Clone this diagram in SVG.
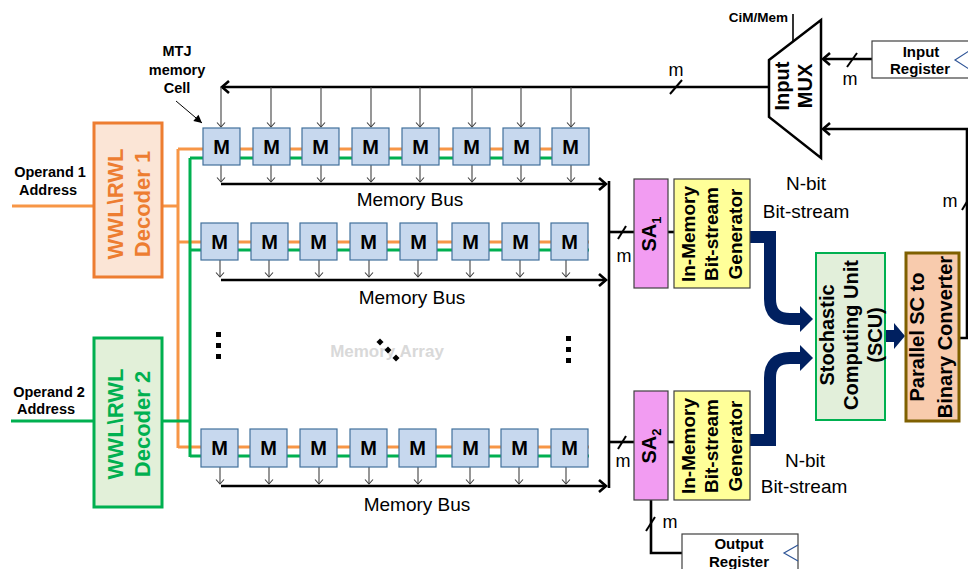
<svg xmlns="http://www.w3.org/2000/svg" width="968" height="569" viewBox="0 0 968 569">
<style>
.b{font-family:"Liberation Sans",Arial,sans-serif;font-weight:bold;fill:#000}
.n{font-family:"Liberation Sans",Arial,sans-serif;fill:#000}
.cell rect{fill:#c7d8ee;stroke:#41719c;stroke-width:1.2}
.cell text{font-family:"Liberation Sans",Arial,sans-serif;font-weight:bold;font-size:20px;text-anchor:middle}
.thin{stroke:#404040;stroke-width:1.1;fill:none}
.bus{stroke:#000;stroke-width:2.6;fill:none}
.or{stroke:#f79646;stroke-width:3;fill:none}
.gr{stroke:#00b050;stroke-width:3;fill:none}
.big{stroke:#002060;stroke-width:12;fill:none}
.mid{text-anchor:middle}
</style>
<defs>
<marker id="sa" markerUnits="userSpaceOnUse" markerWidth="10" markerHeight="10" viewBox="0 0 10 10" refX="9" refY="5" orient="auto"><path d="M4.5,1 L9,5 L4.5,9" fill="none" stroke="#404040" stroke-width="1.1"/></marker>
<marker id="ba" markerUnits="userSpaceOnUse" markerWidth="16" markerHeight="16" viewBox="0 0 16 16" refX="14" refY="8" orient="auto"><path d="M7,2 L14,8 L7,14" fill="none" stroke="#000" stroke-width="2.6"/></marker>
<marker id="fa" markerUnits="userSpaceOnUse" markerWidth="10" markerHeight="10" viewBox="0 0 10 10" refX="9" refY="5" orient="auto"><path d="M1,1 L9,5 L1,9 Z" fill="#000"/></marker>
</defs>
<rect width="968" height="569" fill="#fff"/>

<g id="connectors">
<!-- operand address lines -->
<line x1="12" y1="206" x2="94" y2="206" class="or"/>
<line x1="11" y1="421" x2="94" y2="421" class="gr"/>
<!-- decoder 1 wiring -->
<polyline points="162,206 178,206" class="or"/>
<line x1="178" y1="149" x2="178" y2="448" class="or"/>
<line x1="178" y1="149" x2="589" y2="149" class="or"/>
<line x1="178" y1="242" x2="589" y2="242" class="or"/>
<line x1="178" y1="447" x2="589" y2="447" class="or"/>
<!-- decoder 2 wiring -->
<polyline points="162,421 190,421" class="gr"/>
<line x1="190" y1="158" x2="190" y2="457" class="gr"/>
<line x1="190" y1="158" x2="589" y2="158" class="gr"/>
<line x1="190" y1="250" x2="589" y2="250" class="gr"/>
<line x1="190" y1="456" x2="589" y2="456" class="gr"/>
<!-- top bus from MUX -->
<line x1="769" y1="87" x2="222" y2="87" class="bus" marker-end="url(#ba)"/>
<line x1="670" y1="94" x2="682" y2="80" stroke="#000" stroke-width="2"/>
<g class="thin" marker-end="url(#sa)">
<line x1="221" y1="87" x2="221" y2="127"/>
<line x1="271" y1="87" x2="271" y2="127"/>
<line x1="321" y1="87" x2="321" y2="127"/>
<line x1="371" y1="87" x2="371" y2="127"/>
<line x1="420" y1="87" x2="420" y2="127"/>
<line x1="472" y1="87" x2="472" y2="127"/>
<line x1="521" y1="87" x2="521" y2="127"/>
<line x1="571" y1="87" x2="571" y2="127"/>
</g>
<!-- row outputs -->
<g class="thin" marker-end="url(#sa)">
<line x1="221" y1="165" x2="221" y2="182"/>
<line x1="271" y1="165" x2="271" y2="182"/>
<line x1="321" y1="165" x2="321" y2="182"/>
<line x1="371" y1="165" x2="371" y2="182"/>
<line x1="420" y1="165" x2="420" y2="182"/>
<line x1="472" y1="165" x2="472" y2="182"/>
<line x1="521" y1="165" x2="521" y2="182"/>
<line x1="571" y1="165" x2="571" y2="182"/>
<line x1="220" y1="260" x2="220" y2="277"/>
<line x1="269" y1="260" x2="269" y2="277"/>
<line x1="319" y1="260" x2="319" y2="277"/>
<line x1="369" y1="260" x2="369" y2="277"/>
<line x1="418" y1="260" x2="418" y2="277"/>
<line x1="470" y1="260" x2="470" y2="277"/>
<line x1="520" y1="260" x2="520" y2="277"/>
<line x1="566" y1="260" x2="566" y2="277"/>
<line x1="220" y1="467" x2="220" y2="484"/>
<line x1="269" y1="467" x2="269" y2="484"/>
<line x1="319" y1="467" x2="319" y2="484"/>
<line x1="369" y1="467" x2="369" y2="484"/>
<line x1="418" y1="467" x2="418" y2="484"/>
<line x1="470" y1="467" x2="470" y2="484"/>
<line x1="519" y1="467" x2="519" y2="484"/>
<line x1="566" y1="467" x2="566" y2="484"/>
</g>
<!-- memory buses -->
<line x1="221" y1="184" x2="606" y2="184" class="bus" marker-end="url(#ba)"/>
<line x1="221" y1="280" x2="606" y2="280" class="bus" marker-end="url(#ba)"/>
<line x1="221" y1="486" x2="606" y2="486" class="bus" marker-end="url(#ba)"/>
<line x1="609" y1="181" x2="609" y2="488" class="bus"/>
<!-- to sense amps -->
<line x1="609" y1="232" x2="634" y2="232" class="bus"/>
<line x1="618" y1="239" x2="626" y2="226" stroke="#000" stroke-width="2"/>
<line x1="609" y1="442" x2="634" y2="442" class="bus"/>
<line x1="618" y1="449" x2="626" y2="436" stroke="#000" stroke-width="2"/>
<line x1="668" y1="232" x2="674" y2="232" class="bus"/>
<line x1="668" y1="442" x2="674" y2="442" class="bus"/>
<!-- output register path -->
<polyline points="651,500 651,553 682,553" class="bus"/>
<line x1="646" y1="531" x2="655" y2="517" stroke="#000" stroke-width="2"/>
<!-- thick bit-stream arrows -->
<path d="M750,237 H770 V299 Q770,319 790,319 H801" class="big"/>
<polygon points="800,306 813,319 800,332" fill="#002060"/>
<path d="M750,440 H770 V378 Q770,358 790,358 H801" class="big"/>
<polygon points="800,345 813,358 800,371" fill="#002060"/>
<line x1="885" y1="336" x2="895" y2="336" stroke="#002060" stroke-width="12"/>
<polygon points="894,323 905,336 894,349" fill="#002060"/>
<!-- feedback to MUX -->
<polyline points="959,338 967,338 967,129 823,129" class="bus" marker-end="url(#ba)"/>
<line x1="962" y1="210" x2="968" y2="200" stroke="#000" stroke-width="2"/>
<!-- input register to MUX -->
<line x1="872" y1="59" x2="823" y2="59" class="bus" marker-end="url(#ba)"/>
<line x1="847" y1="67" x2="857" y2="53" stroke="#000" stroke-width="2"/>
<!-- CiM/Mem select -->
<line x1="793" y1="14" x2="793" y2="42" stroke="#000" stroke-width="1.6"/>
<!-- MTJ pointer -->
<line x1="176" y1="101" x2="202" y2="123" stroke="#000" stroke-width="1" marker-end="url(#fa)"/>
</g>

<g id="decoder1">
<rect x="94" y="123" width="68" height="154" fill="#fbe5d6" stroke="#ed7d31" stroke-width="3"/>
<text class="b mid" font-size="22" fill="#ed7d31" style="fill:#ed7d31" transform="translate(123,204) rotate(-90)">WWL\RWL</text>
<text class="b mid" font-size="22" style="fill:#ed7d31" transform="translate(150,204) rotate(-90)">Decoder 1</text>
</g>
<g id="decoder2">
<rect x="94" y="338" width="68" height="169" fill="#e2f0d9" stroke="#00b050" stroke-width="3"/>
<text class="b mid" font-size="22" style="fill:#00b050" transform="translate(123,424) rotate(-90)">WWL\RWL</text>
<text class="b mid" font-size="22" style="fill:#00b050" transform="translate(150,424) rotate(-90)">Decoder 2</text>
</g>

<g id="row1">
<g id="m11" class="cell"><rect x="203" y="128" width="37" height="37"/><text x="221.5" y="154">M</text></g>
<g id="m12" class="cell"><rect x="253" y="128" width="37" height="37"/><text x="271.5" y="154">M</text></g>
<g id="m13" class="cell"><rect x="302" y="128" width="37" height="37"/><text x="320.5" y="154">M</text></g>
<g id="m14" class="cell"><rect x="352" y="128" width="37" height="37"/><text x="370.5" y="154">M</text></g>
<g id="m15" class="cell"><rect x="402" y="128" width="37" height="37"/><text x="420.5" y="154">M</text></g>
<g id="m16" class="cell"><rect x="453" y="128" width="37" height="37"/><text x="471.5" y="154">M</text></g>
<g id="m17" class="cell"><rect x="503" y="128" width="37" height="37"/><text x="521.5" y="154">M</text></g>
<g id="m18" class="cell"><rect x="552" y="128" width="37" height="37"/><text x="570.5" y="154">M</text></g>
</g>
<g id="row2">
<g id="m21" class="cell"><rect x="201" y="223" width="37" height="37"/><text x="219.5" y="249">M</text></g>
<g id="m22" class="cell"><rect x="251" y="223" width="37" height="37"/><text x="269.5" y="249">M</text></g>
<g id="m23" class="cell"><rect x="300" y="223" width="37" height="37"/><text x="318.5" y="249">M</text></g>
<g id="m24" class="cell"><rect x="350" y="223" width="37" height="37"/><text x="368.5" y="249">M</text></g>
<g id="m25" class="cell"><rect x="400" y="223" width="37" height="37"/><text x="418.5" y="249">M</text></g>
<g id="m26" class="cell"><rect x="452" y="223" width="37" height="37"/><text x="470.5" y="249">M</text></g>
<g id="m27" class="cell"><rect x="502" y="223" width="37" height="37"/><text x="520.5" y="249">M</text></g>
<g id="m28" class="cell"><rect x="551" y="223" width="37" height="37"/><text x="569.5" y="249">M</text></g>
</g>
<g id="row3">
<g id="m31" class="cell"><rect x="201" y="429" width="37" height="38"/><text x="219.5" y="455">M</text></g>
<g id="m32" class="cell"><rect x="250" y="429" width="37" height="38"/><text x="268.5" y="455">M</text></g>
<g id="m33" class="cell"><rect x="300" y="429" width="37" height="38"/><text x="318.5" y="455">M</text></g>
<g id="m34" class="cell"><rect x="350" y="429" width="37" height="38"/><text x="368.5" y="455">M</text></g>
<g id="m35" class="cell"><rect x="399" y="429" width="37" height="38"/><text x="417.5" y="455">M</text></g>
<g id="m36" class="cell"><rect x="452" y="429" width="37" height="38"/><text x="470.5" y="455">M</text></g>
<g id="m37" class="cell"><rect x="501" y="429" width="37" height="38"/><text x="519.5" y="455">M</text></g>
<g id="m38" class="cell"><rect x="551" y="429" width="37" height="38"/><text x="569.5" y="455">M</text></g>
</g>

<g id="memory-array">
<text class="b mid" font-size="17" style="fill:#d9d9d9" x="387" y="357">Memory Array</text>
<rect x="216" y="332" width="5" height="5"/><rect x="216" y="343" width="5" height="5"/><rect x="216" y="354" width="5" height="5"/>
<rect x="566" y="336" width="5" height="5"/><rect x="566" y="347" width="5" height="5"/><rect x="566" y="358" width="5" height="5"/>
<rect x="-2.5" y="-2.5" width="5" height="5" transform="translate(380,342) rotate(45)"/>
<rect x="-2.5" y="-2.5" width="5" height="5" transform="translate(388,350) rotate(45)"/>
<rect x="-2.5" y="-2.5" width="5" height="5" transform="translate(396,358) rotate(45)"/>
</g>

<g id="mux">
<polygon points="769,60 821,20 821,158 769,117" fill="#fff" stroke="#000" stroke-width="2.5"/>
<text class="b mid" font-size="20" transform="translate(789,86) rotate(-90)">Input</text>
<text class="b mid" font-size="20" transform="translate(812,86) rotate(-90)">MUX</text>
</g>

<g id="input-register">
<rect x="872" y="41" width="100" height="37" fill="#fff" stroke="#404040" stroke-width="1.2"/>
<polyline points="969,51 955,60 969,69" fill="none" stroke="#2f5597" stroke-width="1.2"/>
<text class="b mid" font-size="15" x="921" y="57">Input</text>
<text class="b mid" font-size="15" x="920" y="74">Register</text>
</g>

<g id="sa1">
<rect x="634" y="179" width="34" height="109" fill="#f29cf2" stroke="#404040" stroke-width="1.2"/>
<text class="b mid" font-size="20" transform="translate(656,234) rotate(-90)">SA<tspan font-size="13" dy="5">1</tspan></text>
</g>
<g id="gen1">
<rect x="674" y="179" width="76" height="109" fill="#ffff99" stroke="#404040" stroke-width="1.2"/>
<text class="b mid" font-size="19" transform="translate(695,234) rotate(-90)">In-Memory</text>
<text class="b mid" font-size="19" transform="translate(718,234) rotate(-90)">Bit-stream</text>
<text class="b mid" font-size="19" transform="translate(742,234) rotate(-90)">Generator</text>
</g>
<g id="sa2">
<rect x="634" y="391" width="34" height="109" fill="#f29cf2" stroke="#404040" stroke-width="1.2"/>
<text class="b mid" font-size="20" transform="translate(656,446) rotate(-90)">SA<tspan font-size="13" dy="5">2</tspan></text>
</g>
<g id="gen2">
<rect x="674" y="391" width="76" height="109" fill="#ffff99" stroke="#404040" stroke-width="1.2"/>
<text class="b mid" font-size="19" transform="translate(695,446) rotate(-90)">In-Memory</text>
<text class="b mid" font-size="19" transform="translate(718,446) rotate(-90)">Bit-stream</text>
<text class="b mid" font-size="19" transform="translate(742,446) rotate(-90)">Generator</text>
</g>

<g id="scu">
<rect x="816" y="253" width="69" height="167" fill="#e2efda" stroke="#00b050" stroke-width="2"/>
<text class="b mid" font-size="20" transform="translate(834,335) rotate(-90)">Stochastic</text>
<text class="b mid" font-size="20" transform="translate(858,335) rotate(-90)">Computing Unit</text>
<text class="b mid" font-size="20" transform="translate(882,335) rotate(-90)">(SCU)</text>
</g>
<g id="converter">
<rect x="906" y="253" width="53" height="168" fill="#f8cbad" stroke="#7f6000" stroke-width="3"/>
<text class="b mid" font-size="20" transform="translate(924,337) rotate(-90)">Parallel SC to</text>
<text class="b mid" font-size="20" transform="translate(952,337) rotate(-90)">Binary Converter</text>
</g>

<g id="output-register">
<rect x="682" y="534" width="116" height="45" fill="#fff" stroke="#404040" stroke-width="1.2"/>
<polyline points="798,545 784,553 798,561" fill="none" stroke="#2f5597" stroke-width="1.2"/>
<text class="b mid" font-size="15" x="739" y="549">Output</text>
<text class="b mid" font-size="15" x="739" y="567">Register</text>
</g>

<g id="labels">
<text class="b mid" font-size="14.5" x="50" y="177">Operand 1</text>
<text class="b mid" font-size="14.5" x="48" y="195">Address</text>
<text class="b mid" font-size="14.5" x="49" y="397">Operand 2</text>
<text class="b mid" font-size="14.5" x="46" y="414">Address</text>
<text class="b mid" font-size="14.5" x="177" y="56">MTJ</text>
<text class="b mid" font-size="14.5" x="177" y="75">memory</text>
<text class="b mid" font-size="14.5" x="177" y="93">Cell</text>
<text class="b" font-size="13.5" text-anchor="end" x="788" y="22">CiM/Mem</text>
<text class="n mid" font-size="19" x="410" y="206">Memory Bus</text>
<text class="n mid" font-size="19" x="412" y="304">Memory Bus</text>
<text class="n mid" font-size="19" x="417" y="511">Memory Bus</text>
<text class="n mid" font-size="19" x="806" y="190">N-bit</text>
<text class="n mid" font-size="19" x="806" y="218">Bit-stream</text>
<text class="n mid" font-size="19" x="805" y="467">N-bit</text>
<text class="n mid" font-size="19" x="804" y="493">Bit-stream</text>
<text class="n mid" font-size="18" x="676" y="76">m</text>
<text class="n mid" font-size="18" x="850" y="85">m</text>
<text class="n mid" font-size="18" x="624" y="262">m</text>
<text class="n mid" font-size="18" x="623" y="467">m</text>
<text class="n mid" font-size="18" x="670" y="528">m</text>
<text class="n mid" font-size="18" x="950" y="207">m</text>
</g>
</svg>
